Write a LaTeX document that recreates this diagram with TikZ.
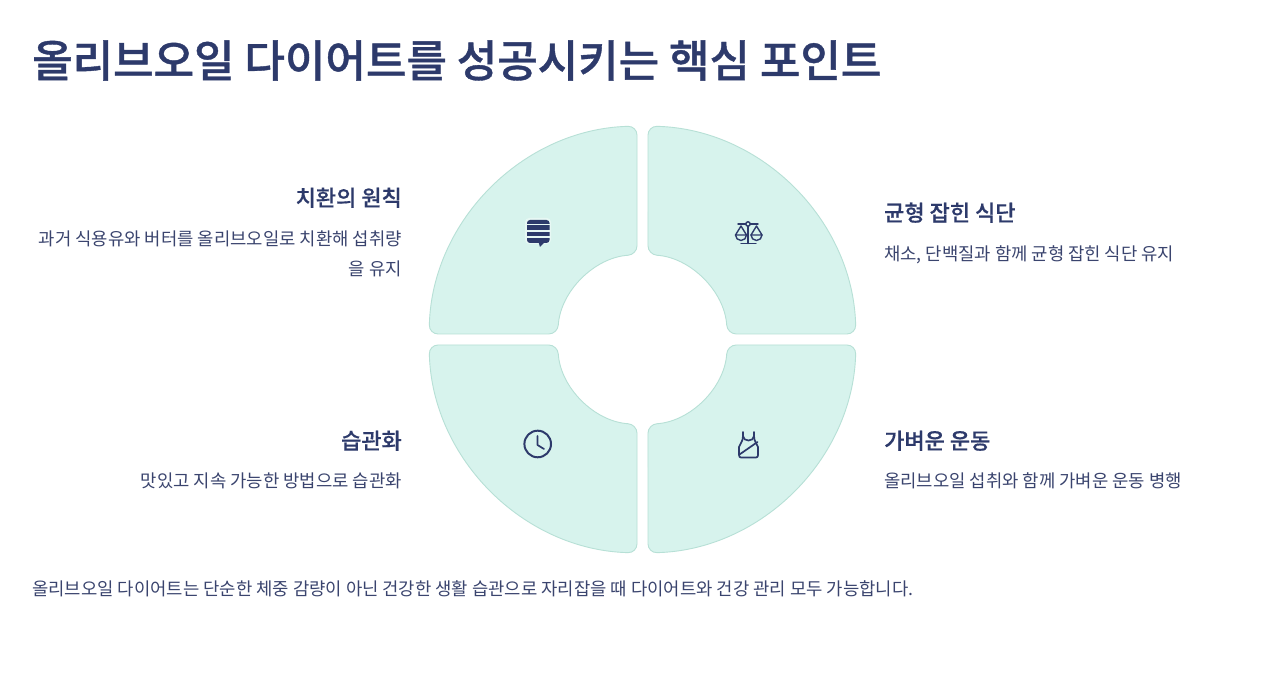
\documentclass[tikz,border=0pt]{standalone}
\usepackage{fontspec}
\setmainfont{Noto Sans CJK KR}
\newfontfamily\semifont[FakeBold=0.5]{Noto Sans CJK KR Medium}
\newfontfamily\titlefont[FakeBold=0.9]{Noto Sans CJK KR Medium}
\usepackage{xcolor}
\definecolor{ink}{RGB}{45,58,107}
\definecolor{softink}{RGB}{58,68,110}
\definecolor{softmint}{RGB}{215,243,237}
\definecolor{edgemint}{RGB}{183,224,214}
\usetikzlibrary{positioning}

\begin{document}
\begin{tikzpicture}[
  x=1pt, y=1pt,
  title_text/.style={anchor=base west, inner sep=0pt, ink, font=\fontsize{44}{44}\titlefont},
  head_left/.style={anchor=base east, inner sep=0pt, ink, font=\fontsize{22}{22}\semifont},
  head_right/.style={anchor=base west, inner sep=0pt, ink, font=\fontsize{22}{22}\semifont},
  body_text/.style={inner sep=0pt, softink, font=\fontsize{17.75}{30}\selectfont},
  petal/.style={fill=softmint, draw=edgemint, line width=0.9pt, rounded corners=9pt},
  icon_line/.style={draw=ink, line width=1.7pt, line cap=round, line join=round}
]
\useasboundingbox (0,0) rectangle (1278,674);
\fill[white] (0,0) rectangle (1278,674);

% Title
\node[title_text] (title) at (32,597) {올리브오일 다이어트를 성공시키는 핵심 포인트};

% Four quarter petals
\foreach \sx/\sy in {1/1,-1/1,-1/-1,1/-1}{
  \begin{scope}[shift={(642.5,334.5)}, xscale=\sx, yscale=\sy]
    \draw[petal] (5.5,150) -- (5.5,213.4) arc (88.52:1.48:213.5) -- (84.8,5.5) arc (3.71:86.29:85) -- cycle;
  \end{scope}
}

% Speech bubble icon
\fill[white!40!softmint, rounded corners=4pt] (525,456) rectangle (551,430);
\fill[ink, rounded corners=3pt] (527,454) rectangle (549.5,431);
\fill[ink] (538.5,432) -- (544,431) -- (540,427) -- cycle;
\foreach \yy in {449.5,443,437}{
  \draw[white!40!softmint, line width=1.2pt] (525,\yy) -- (551,\yy);
}

% Balance icon
\draw[icon_line, line width=1.4pt] (738,450) -- (745.7,450) (750.3,450) -- (758,450);
\draw[icon_line, line width=1.4pt] (748,450) circle (2.2);
\draw[icon_line, line width=1.4pt] (748,447.8) -- (748,430.5) (741,430.5) -- (756,430.5);
\draw[icon_line, line width=1.4pt] (735.5,439) -- (741,448) -- (746.5,439) -- cycle;
\draw[icon_line, line width=1.4pt] (735.5,439) arc (180:360:5.5);
\draw[icon_line, line width=1.4pt] (751,439) -- (756.5,448) -- (762,439) -- cycle;
\draw[icon_line, line width=1.4pt] (751,439) arc (180:360:5.5);

% Clock icon
\draw[icon_line, line width=2pt] (537.7,230) circle (13.3);
\draw[icon_line] (537.5,238) -- (537.5,229) -- (544,225);

% Tank top icon
\draw[icon_line] (743,242) -- (743,238) .. controls (743,232) and (754,232) .. (754,238) -- (754,242);
\draw[icon_line] (743,238) .. controls (743,232) and (740,231) .. (739,227) -- (739,219) .. controls (739,217) and (740,216.5) .. (741,216.5) -- (756,216.5) .. controls (757.5,216.5) and (758,217.5) .. (758,219) -- (758,227) .. controls (757,231) and (754,232) .. (754,238);
\draw[icon_line] (739.5,219.5) -- (757.5,232);

% Left labels
\node[head_left] (head_swap) at (402,468) {치환의 원칙};
\node[body_text, anchor=east, align=right] (body_swap) at (402,420) {과거 식용유와 버터를 올리브오일로 치환해 섭취량\\을 유지};
\node[head_left] (head_habit) at (402,225) {습관화};
\node[body_text, anchor=base east] (body_habit) at (402,186) {맛있고 지속 가능한 방법으로 습관화};

% Right labels
\node[head_right] (head_diet) at (884,453) {균형 잡힌 식단};
\node[body_text, anchor=base west] (body_diet) at (884,413) {채소, 단백질과 함께 균형 잡힌 식단 유지};
\node[head_right] (head_move) at (884,225) {가벼운 운동};
\node[body_text, anchor=base west] (body_move) at (884,186) {올리브오일 섭취와 함께 가벼운 운동 병행};

% Closing line
\node[body_text, anchor=base west] (closing) at (32,78) {올리브오일 다이어트는 단순한 체중 감량이 아닌 건강한 생활 습관으로 자리잡을 때 다이어트와 건강 관리 모두 가능합니다.};
\end{tikzpicture}
\end{document}
